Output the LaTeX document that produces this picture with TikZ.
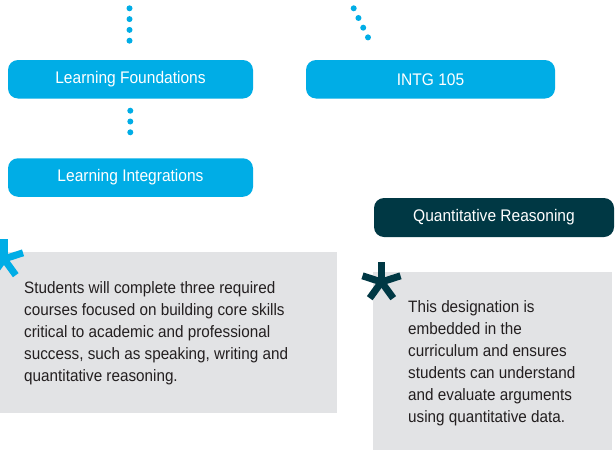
\documentclass[tikz,border=0pt]{standalone}
\usepackage{fontspec}
\setmainfont{Liberation Sans}[FakeStretch=0.925]
\usetikzlibrary{calc}
\definecolor{cblue}{HTML}{00ADE6}
\definecolor{cdark}{HTML}{003844}
\definecolor{cgray}{HTML}{E2E3E5}
\definecolor{ctext}{HTML}{231F20}
\begin{document}
\begin{tikzpicture}[x=1pt,y=-1pt,
  box/.style={rectangle, rounded corners=10pt, minimum width=245pt, minimum height=38.5pt,
    text=white, font=\fontsize{16.8}{19}\selectfont, inner sep=0pt, fill=cblue},
  greybox/.style={rectangle, fill=cgray, inner sep=0pt, anchor=north west},
  para/.style={anchor=north west, inner sep=0pt, align=left, text=ctext,
    font=\fontsize{16.5}{22}\selectfont},
  dotline/.style={cblue, line width=6pt, line cap=round, dash pattern=on 0pt off 10.8pt},
  astarm/.style={line width=7pt}]
\useasboundingbox (0,0) rectangle (616,450);
\fill[white] (0,0) rectangle (616,450);
% boxes
\node[box] (lf) at (130.5,79.25) {Learning Foundations};
\node[box, minimum width=249pt] (intg) at (430.5,79.25) {INTG 105};
\node[box] (li) at (130.5,177.5) {Learning Integrations};
\node[box, fill=cdark, minimum width=240pt, minimum height=39pt] (qr) at (494,217.5) {Quantitative Reasoning};
% dotted connectors
\coordinate (d1a) at (129.5,8.3);
\coordinate (d1b) at (129.5,41.3);
\coordinate (d2a) at (353.7,8.3);
\coordinate (d2b) at (368.3,38);
\coordinate (d3a) at (130.3,110.7);
\coordinate (d3b) at (130.3,143);
\draw[dotline] (d1a) -- (d1b);
\draw[dotline] (d2a) -- (d2b);
\draw[dotline] (d3a) -- (d3b);
% grey boxes
\node[greybox, minimum width=337pt, minimum height=161pt] (lg) at (0,252) {};
\node[greybox, minimum width=239pt, minimum height=178pt] (rg) at (373,272) {};
% asterisks
\begin{scope}[shift={(4,259)}, cblue]
  \foreach \a in {-90,-18,-162,54,126} \draw[astarm] (0,0) -- (\a:20);
\end{scope}
\begin{scope}[shift={(381.5,282)}, cdark]
  \foreach \a in {-90,-18,-162,54,126} \draw[astarm] (0,0) -- (\a:20);
\end{scope}
% texts
\node[para] (lt) at (24,281) {Students will complete three required\\courses focused on building core skills\\critical to academic and professional\\success, such as speaking, writing and\\quantitative reasoning.};
\node[para] (rt) at (408,300) {This designation is\\embedded in the\\curriculum and ensures\\students can understand\\and evaluate arguments\\using quantitative data.};
\end{tikzpicture}
\end{document}
